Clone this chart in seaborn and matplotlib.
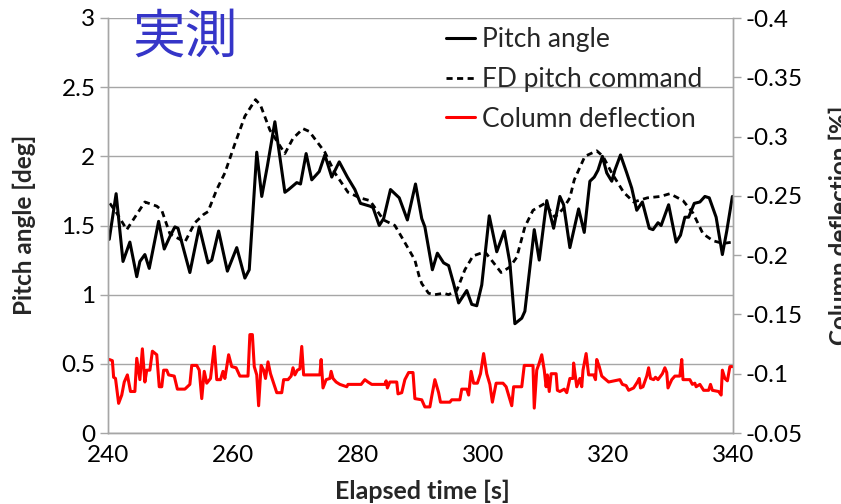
import matplotlib.pyplot as plt
import seaborn as sns
from matplotlib.ticker import FuncFormatter

# Pitch angle [deg] (solid black)
t_pitch = [240.2, 241.3, 242.4, 243.5, 244.6, 245.1, 245.9, 246.6, 248.1, 249.0, 249.9, 250.7, 251.2,
           253.1, 254.6, 256.0, 256.6, 257.7, 259.1, 260.6, 261.9, 262.6, 263.8, 264.6, 265.5, 266.7,
           268.3, 268.9, 270.2, 270.8, 271.7, 272.6, 273.8, 274.7, 275.8, 277.0, 278.3, 279.5, 280.4,
           281.9, 282.4, 283.4, 284.1, 285.2, 286.6, 287.9, 289.2, 290.2, 290.7, 291.9, 292.7, 293.7,
           294.5, 295.3, 296.1, 297.4, 298.2, 299.0, 299.8, 301.0, 302.2, 303.4, 304.3, 305.1, 306.2,
           306.7, 308.2, 309.0, 310.2, 311.3, 312.3, 312.9, 313.9, 315.3, 316.2, 317.1, 317.8, 318.4,
           319.1, 319.8, 320.6, 321.1, 322.0, 323.0, 323.8, 324.6, 325.5, 326.6, 327.2, 328.0, 328.5,
           329.7, 330.9, 331.6, 332.3, 332.9, 333.8, 334.7, 335.5, 336.2, 337.3, 338.3, 339.0, 339.9]
pitch = [1.40, 1.73, 1.24, 1.38, 1.13, 1.24, 1.29, 1.19, 1.53, 1.33, 1.42, 1.49, 1.48,
         1.16, 1.49, 1.23, 1.25, 1.46, 1.17, 1.34, 1.12, 1.18, 2.03, 1.71, 1.93, 2.25,
         1.74, 1.76, 1.81, 1.80, 2.02, 1.83, 1.89, 2.01, 1.85, 1.96, 1.85, 1.76, 1.66,
         1.64, 1.63, 1.50, 1.55, 1.76, 1.70, 1.54, 1.80, 1.55, 1.49, 1.18, 1.30, 1.23,
         1.21, 1.08, 0.94, 1.03, 0.93, 0.92, 1.07, 1.57, 1.31, 1.46, 1.23, 0.79, 0.83,
         0.88, 1.47, 1.25, 1.68, 1.48, 1.71, 1.65, 1.34, 1.62, 1.45, 1.82, 1.85, 1.90,
         2.00, 1.88, 1.82, 1.90, 2.01, 1.88, 1.77, 1.61, 1.67, 1.48, 1.47, 1.52, 1.50,
         1.65, 1.38, 1.43, 1.56, 1.56, 1.66, 1.67, 1.71, 1.70, 1.56, 1.29, 1.46, 1.71]

# FD pitch command [deg] (dashed black)
t_fd = [240.3, 241.4, 243.0, 244.3, 245.9, 247.8, 248.6, 249.9, 252.3, 253.9, 255.3, 256.0, 257.4,
        258.7, 260.3, 261.9, 263.6, 264.4, 265.9, 268.3, 269.6, 271.2, 272.2, 273.7, 274.7, 276.3,
        278.4, 280.3, 281.9, 284.1, 285.9, 287.2, 289.1, 289.8, 290.2, 291.3, 292.3, 293.7, 294.5,
        295.8, 297.1, 298.4, 300.3, 301.7, 302.9, 304.3, 305.4, 306.7, 308.0, 309.9, 311.5, 312.8,
        313.9, 314.6, 316.3, 318.2, 319.2, 320.6, 322.5, 324.1, 326.3, 328.4, 329.9, 332.0, 333.6,
        335.2, 336.8, 338.4, 339.9]
fd = [1.66, 1.59, 1.47, 1.56, 1.67, 1.64, 1.61, 1.44, 1.38, 1.52, 1.58, 1.60, 1.76,
      1.88, 2.09, 2.29, 2.41, 2.37, 2.19, 2.02, 2.13, 2.20, 2.18, 2.09, 2.03, 1.88,
      1.74, 1.70, 1.68, 1.54, 1.50, 1.40, 1.25, 1.13, 1.08, 1.01, 1.00, 1.01, 1.00,
      1.03, 1.18, 1.28, 1.31, 1.23, 1.16, 1.20, 1.27, 1.49, 1.61, 1.66, 1.56, 1.62,
      1.70, 1.83, 2.00, 2.04, 2.00, 1.88, 1.74, 1.67, 1.70, 1.71, 1.73, 1.68, 1.59,
      1.44, 1.39, 1.37, 1.38]

# Column deflection [%] (red, right axis)
t_col = [240.2, 240.7, 240.9, 241.2, 241.7, 242.2, 242.6, 243.1, 243.6, 244.3, 244.6, 245.1, 245.5,
         245.9, 246.2, 246.7, 247.1, 247.8, 248.2, 248.6, 248.9, 249.4, 249.7, 250.6, 251.1, 252.3,
         253.1, 253.4, 254.2, 254.6, 255.0, 255.4, 255.8, 256.4, 257.0, 257.4, 258.0, 258.4, 258.7,
         259.3, 259.8, 260.5, 261.1, 262.4, 262.7, 263.1, 263.4, 263.8, 264.1, 264.5, 264.9, 265.2,
         265.6, 266.0, 266.5, 267.0, 267.8, 268.1, 268.8, 269.3, 269.6, 269.9, 270.3, 270.7, 271.0,
         271.3, 273.9, 274.1, 274.4, 274.9, 275.5, 275.7, 276.0, 276.5, 277.1, 278.2, 278.4, 280.5,
         281.1, 281.6, 282.2, 284.3, 284.5, 284.7, 285.1, 286.2, 286.4, 287.0, 287.5, 288.1, 288.8,
         289.1, 290.2, 290.7, 291.5, 291.8, 292.3, 292.9, 293.2, 294.7, 295.0, 296.3, 296.6, 297.4,
         297.7, 298.1, 298.5, 299.1, 299.6, 300.1, 300.6, 301.1, 301.5, 302.1, 303.2, 303.7, 304.6,
         304.9, 306.2, 306.6, 308.0, 308.2, 308.6, 309.0, 309.4, 309.8, 310.1, 310.3, 310.6, 310.9,
         311.7, 311.9, 312.3, 313.0, 313.4, 313.9, 314.4, 314.5, 315.0, 315.5, 315.8, 316.0, 316.5,
         316.9, 317.7, 318.0, 318.2, 318.6, 319.0, 320.1, 321.9, 322.3, 322.9, 323.3, 324.1, 324.7,
         325.0, 325.2, 325.6, 326.2, 326.5, 326.8, 327.3, 327.6, 328.0, 328.7, 329.1, 329.4, 329.6,
         330.2, 330.7, 331.5, 331.8, 332.0, 333.1, 333.5, 333.9, 334.1, 334.7, 335.3, 336.1, 336.4,
         336.7, 337.7, 338.1, 338.3, 338.7, 339.1, 339.5, 339.9]
col = [-0.112, -0.111, -0.097, -0.096, -0.075, -0.082, -0.093, -0.099, -0.085, -0.085, -0.113, -0.095, -0.121,
       -0.093, -0.103, -0.103, -0.119, -0.116, -0.089, -0.089, -0.103, -0.103, -0.099, -0.098, -0.087, -0.087,
       -0.091, -0.107, -0.107, -0.103, -0.079, -0.102, -0.092, -0.096, -0.123, -0.095, -0.095, -0.102, -0.096,
       -0.116, -0.106, -0.105, -0.098, -0.098, -0.133, -0.133, -0.106, -0.099, -0.073, -0.107, -0.103, -0.096,
       -0.110, -0.100, -0.092, -0.084, -0.084, -0.095, -0.095, -0.098, -0.105, -0.099, -0.103, -0.104, -0.123,
       -0.099, -0.099, -0.112, -0.088, -0.095, -0.096, -0.102, -0.096, -0.093, -0.091, -0.089, -0.091, -0.091,
       -0.095, -0.093, -0.091, -0.091, -0.094, -0.088, -0.093, -0.093, -0.083, -0.084, -0.095, -0.101, -0.101,
       -0.079, -0.078, -0.072, -0.072, -0.081, -0.095, -0.084, -0.076, -0.076, -0.078, -0.078, -0.087, -0.087,
       -0.082, -0.102, -0.092, -0.092, -0.100, -0.117, -0.100, -0.091, -0.076, -0.092, -0.092, -0.089, -0.073,
       -0.089, -0.089, -0.107, -0.107, -0.071, -0.103, -0.109, -0.116, -0.103, -0.089, -0.099, -0.085, -0.100,
       -0.100, -0.086, -0.085, -0.087, -0.084, -0.096, -0.096, -0.109, -0.089, -0.096, -0.089, -0.103, -0.117,
       -0.099, -0.099, -0.095, -0.112, -0.106, -0.098, -0.093, -0.095, -0.091, -0.090, -0.086, -0.088, -0.093,
       -0.096, -0.088, -0.089, -0.098, -0.105, -0.096, -0.095, -0.097, -0.095, -0.100, -0.105, -0.101, -0.088,
       -0.095, -0.098, -0.098, -0.112, -0.095, -0.095, -0.091, -0.092, -0.089, -0.091, -0.086, -0.086, -0.091,
       -0.086, -0.085, -0.082, -0.103, -0.096, -0.094, -0.106, -0.106]

left_ticks = [0, 0.5, 1, 1.5, 2, 2.5, 3]
right_ticks = [-0.05, -0.1, -0.15, -0.2, -0.25, -0.3, -0.35, -0.4]
x_ticks = [240, 260, 280, 300, 320, 340]

sns.set_style("white")
plt.rcParams['font.family'] = ['Lato', 'Noto Sans CJK JP', 'DejaVu Sans']
plt.rcParams['axes.unicode_minus'] = False

fig = plt.figure(figsize=(8.41, 5.04), dpi=100)
ax = fig.add_axes([108 / 841, 1 - 433 / 504, 625 / 841, 415 / 504])
ax2 = ax.twinx()

sns.lineplot(x=t_pitch, y=pitch, ax=ax, color='black', lw=2.2, estimator=None,
             label='Pitch angle', legend=False)
sns.lineplot(x=t_fd, y=fd, ax=ax, color='black', lw=2.0, estimator=None,
             dashes=False, label='FD pitch command', legend=False)
ax.lines[-1].set_linestyle((0, (2.2, 1.6)))
sns.lineplot(x=t_col, y=col, ax=ax2, color='red', lw=2.2, estimator=None,
             label='Column deflection', legend=False)

grid_c = '#a6a6a6'
ax.set_xlim(240, 340)
ax.set_ylim(0, 3)
ax.set_xticks(x_ticks)
ax.set_yticks(left_ticks)
ax.yaxis.set_major_formatter(FuncFormatter(lambda v, p: f'{v:g}'))
ax.grid(axis='y', color=grid_c, lw=1)
ax.grid(axis='x', visible=False)
ax2.set_ylim(-0.05, -0.4)
ax2.set_yticks(right_ticks)
ax2.yaxis.set_major_formatter(FuncFormatter(lambda v, p: f'{v:g}'))
ax2.grid(False)

for a in (ax, ax2):
    for s in a.spines.values():
        s.set_color(grid_c)
        s.set_linewidth(1)
    a.spines['top'].set_visible(False)
    a.tick_params(direction='out', length=6, width=1, color=grid_c,
                  labelsize=17.5, labelcolor='black', pad=3)
ax.set_xlabel('')
ax.set_ylabel('')
ax2.set_ylabel('')

fig.text(24 / 841, 1 - 225 / 504, 'Pitch angle [deg]', rotation=90, ha='center', va='center',
         fontsize=17.5, fontweight='bold')
# the reference crops this label at the right edge
fig.text(840 / 841, 1 - 225 / 504, 'Column deflection [%]', rotation=90, ha='center', va='center',
         fontsize=17.5, fontweight='bold')
fig.text(422 / 841, 1 - 491 / 504, 'Elapsed time [s]', ha='center', va='center',
         fontsize=18, fontweight='bold')
fig.text(132 / 841, 1 - 37 / 504, '実測', ha='left', va='center', fontsize=38,
         color='#3535c8', family=['Noto Sans CJK JP', 'DejaVu Sans'])

handles = ax.get_lines()[:2] + ax2.get_lines()[:1]
fig.legend(handles, [h.get_label() for h in handles], loc='upper left',
           bbox_to_anchor=(446 / 841, 1 - 27 / 504), frameon=False, fontsize=19,
           handlelength=1.1, handletextpad=0.25, labelspacing=0.56, borderpad=0,
           borderaxespad=0)

fig.savefig('out.png', dpi=100)
